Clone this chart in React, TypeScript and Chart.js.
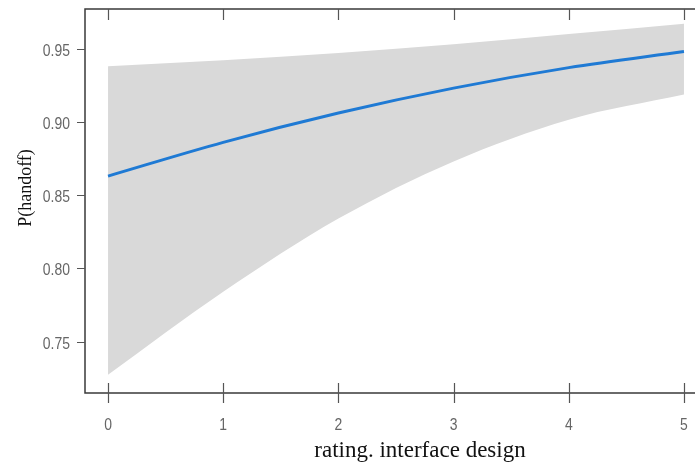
import React, { useEffect, useRef } from "react";
import { Chart, registerables } from "chart.js";

Chart.register(...registerables);

const xValues = [0, 1, 2, 3, 4, 5];
const fitValues = [0.863, 0.886, 0.906, 0.923, 0.937, 0.948];
const upperValues = [0.938, 0.942, 0.947, 0.953, 0.96, 0.967];
const lowerValues = [0.7275, 0.784, 0.834, 0.873, 0.9015, 0.9186];
const xTickValues = [0, 1, 2, 3, 4, 5];
const yTickValues = [0.75, 0.8, 0.85, 0.9, 0.95];
const xTitle = "rating. interface design";
const yTitle = "P(handoff)";

const TICK_FONT = "17px 'Liberation Sans', Arial, sans-serif";
const NARROW = 0.82;
const VIEW_W = 695;

const framePlugin = {
  id: "framePlugin",
  afterDraw(chart: any) {
    const { ctx, chartArea } = chart;
    const xs = chart.scales.x;
    const ys = chart.scales.y;
    const W = VIEW_W;
    ctx.save();
    ctx.strokeStyle = "#3a3a3a";
    ctx.lineWidth = 1.5;
    ctx.beginPath();
    ctx.moveTo(W, chartArea.top);
    ctx.lineTo(chartArea.left, chartArea.top);
    ctx.lineTo(chartArea.left, chartArea.bottom);
    ctx.lineTo(W, chartArea.bottom);
    ctx.stroke();

    // tick marks
    ctx.strokeStyle = "#555";
    ctx.lineWidth = 1.2;
    ctx.beginPath();
    for (const v of xTickValues) {
      const px = Math.round(xs.getPixelForValue(v)) + 0.5;
      ctx.moveTo(px, chartArea.bottom - 10);
      ctx.lineTo(px, chartArea.bottom + 10);
      ctx.moveTo(px, chartArea.top);
      ctx.lineTo(px, chartArea.top + 11);
    }
    for (const v of yTickValues) {
      const py = Math.round(ys.getPixelForValue(v)) + 0.5;
      ctx.moveTo(chartArea.left - 8, py);
      ctx.lineTo(chartArea.left, py);
    }
    ctx.stroke();

    // tick labels (narrow sans)
    ctx.fillStyle = "#666";
    ctx.font = TICK_FONT;
    ctx.textBaseline = "alphabetic";
    ctx.textAlign = "center";
    for (const v of xTickValues) {
      const px = xs.getPixelForValue(v);
      ctx.save();
      ctx.translate(px, chartArea.bottom + 37);
      ctx.scale(NARROW, 1);
      ctx.fillText(String(v), 0, 0);
      ctx.restore();
    }
    ctx.textAlign = "right";
    for (const v of yTickValues) {
      const py = ys.getPixelForValue(v);
      ctx.save();
      ctx.translate(chartArea.left - 15, py + 7);
      ctx.scale(NARROW, 1);
      ctx.fillText(v.toFixed(2), 0, 0);
      ctx.restore();
    }

    // axis titles
    ctx.fillStyle = "#111";
    ctx.font = "23px 'Liberation Serif', 'Times New Roman', serif";
    ctx.textAlign = "center";
    ctx.textBaseline = "alphabetic";
    ctx.fillText(xTitle, 420, 457);
    ctx.translate(26, 188);
    ctx.rotate(-Math.PI / 2);
    ctx.font = "18px 'Liberation Serif', 'Times New Roman', serif";
    ctx.textBaseline = "middle";
    ctx.fillText(yTitle, 0, 0);
    ctx.restore();
  },
};

export default function App() {
  const ref = useRef<HTMLCanvasElement | null>(null);
  useEffect(() => {
    if (!ref.current) return;
    const toPts = (arr: number[]) => xValues.map((x, i) => ({ x, y: arr[i] }));
    const chart = new Chart(ref.current, {
      type: "line",
      data: {
        datasets: [
          {
            label: "fit",
            data: toPts(fitValues),
            borderColor: "#1f7ad4",
            borderWidth: 3,
            pointRadius: 0,
            fill: false,
            cubicInterpolationMode: "monotone",
          },
          {
            label: "lower",
            data: toPts(lowerValues),
            borderWidth: 0,
            borderColor: "rgba(0,0,0,0)",
            pointRadius: 0,
            fill: false,
            cubicInterpolationMode: "monotone",
          },
          {
            label: "upper",
            data: toPts(upperValues),
            borderWidth: 0,
            borderColor: "rgba(0,0,0,0)",
            backgroundColor: "#d9d9d9",
            pointRadius: 0,
            fill: "-1",
            cubicInterpolationMode: "monotone",
          },
        ],
      },
      options: {
        responsive: false,
        animation: false,
        devicePixelRatio: 1,
        layout: { padding: { left: 0, top: 9, right: 23, bottom: 0 } },
        plugins: { legend: { display: false }, tooltip: { enabled: false } },
        scales: {
          x: {
            type: "linear",
            min: -0.2,
            max: 5.2,
            afterFit: (s: any) => {
              s.height = 70;
              s.paddingLeft = 0;
              s.paddingRight = 0;
            },
            afterBuildTicks: (s: any) => {
              s.ticks = xTickValues.map((v) => ({ value: v }));
            },
            border: { display: false },
            grid: { display: false },
            ticks: { display: false },
          },
          y: {
            type: "linear",
            min: 0.715,
            max: 0.977,
            afterFit: (s: any) => {
              s.width = 85;
              s.paddingTop = 0;
              s.paddingBottom = 0;
            },
            afterBuildTicks: (s: any) => {
              s.ticks = yTickValues.map((v) => ({ value: v }));
            },
            border: { display: false },
            grid: { display: false },
            ticks: { display: false },
          },
        },
      },
      plugins: [framePlugin],
    } as any);
    return () => chart.destroy();
  }, []);
  return (
    <div style={{ position: "fixed", left: 0, top: 0, width: 695, height: 463, overflow: "hidden", background: "#fff" }}>
      <canvas ref={ref} width={730} height={463} style={{ display: "block", width: 730, height: 463 }} />
    </div>
  );
}
